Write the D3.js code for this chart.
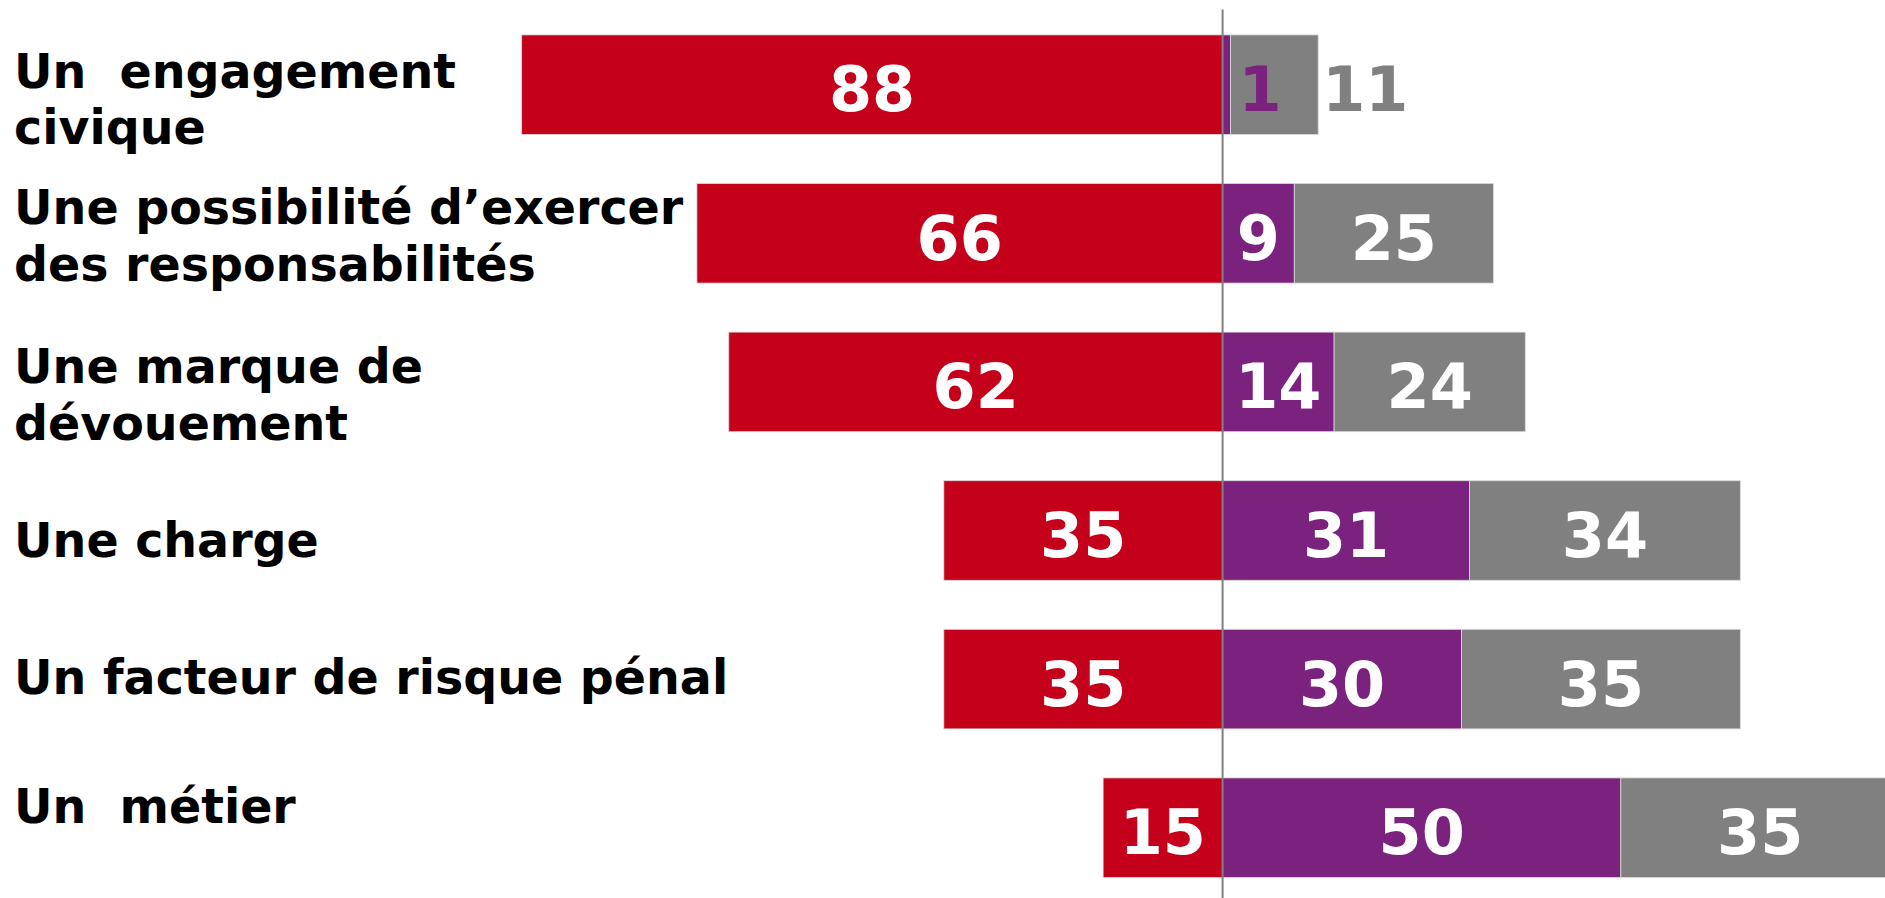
<!DOCTYPE html>
<html>
<head>
<meta charset="utf-8">
<script src="https://cdn.jsdelivr.net/npm/d3@7"></script>
<style>
  body { margin: 0; background: #fff; }
  svg { display: block; }
  .cat { font-family: "DejaVu Sans", sans-serif; font-weight: bold; font-size: 47.5px; fill: #000; white-space: pre; }
  .val { font-family: "DejaVu Sans", sans-serif; font-weight: bold; font-size: 62px; }
</style>
</head>
<body>
<svg width="1885" height="898"></svg>
<script>
// data
var categories = [
    "Un  engagement\ncivique",
    "Une possibilité d\u2019exercer\ndes responsabilités",
    "Une marque de\ndévouement",
    "Une charge",
    "Un facteur de risque pénal",
    "Un  métier"
];
var redValues = [88, 66, 62, 35, 35, 15];
var purpleValues = [1, 9, 14, 31, 30, 50];
var grayValues = [11, 25, 24, 34, 35, 35];

// layout tweaks (label text boxes were placed by hand in the original)
var labelNudge = [3, -9, 1.5, 26, 15, -5];

var colors = { red: "#c4001a", purple: "#7a227e", gray: "#808080" };

var svg = d3.select("svg"),
    width = +svg.attr("width"),
    height = +svg.attr("height");

var zeroX = 1222.6, unit = 7.965;
var x = d3.scaleLinear()
    .domain([-100, 100])
    .range([zeroX - 100 * unit, zeroX + 100 * unit]);

var y = d3.scaleBand()
    .domain(categories)
    .range([10.4, 902])
    .paddingInner(0.33)
    .paddingOuter(0.165);

var rows = categories.map(function (c, i) {
    return {
        cat: c, i: i,
        segs: [
            { key: "red", x0: -redValues[i], x1: 0, v: redValues[i] },
            { key: "purple", x0: 0, x1: purpleValues[i], v: purpleValues[i] },
            { key: "gray", x0: purpleValues[i], x1: purpleValues[i] + grayValues[i], v: grayValues[i] }
        ]
    };
});

var row = svg.append("g")
    .selectAll("g")
    .data(rows)
    .enter().append("g");

row.selectAll("rect")
    .data(function (d) { return d.segs.map(function (s) { s.cat = d.cat; return s; }); })
    .enter().append("rect")
    .attr("x", function (d) { return x(d.x0); })
    .attr("y", function (d) { return y(d.cat); })
    .attr("width", function (d) { return x(d.x1) - x(d.x0); })
    .attr("height", y.bandwidth())
    .style("fill", function (d) { return colors[d.key]; })
    .style("stroke", "#d9d9d9")
    .style("stroke-width", 0.8);

// value labels
row.each(function (r) {
    var purpleNarrow = x(r.segs[1].x1) - x(r.segs[1].x0) < 30;
    d3.select(this).selectAll("text.val")
        .data(r.segs)
        .enter().append("text")
        .attr("class", "val")
        .each(function (d) {
            var t = d3.select(this);
            t.attr("y", y(d.cat) + y.bandwidth() / 2 + 26.5).text(d.v);
            if (purpleNarrow && d.key != "red") {
                // narrow purple slice: labels pushed to the right, in series colour
                var gap = d.key == "purple" ? 8 : 4;
                t.attr("x", x(d.x1) + gap)
                 .attr("text-anchor", "start")
                 .style("fill", colors[d.key]);
            } else {
                t.attr("x", (x(d.x0) + x(d.x1)) / 2)
                 .attr("text-anchor", "middle")
                 .style("fill", "#fff");
            }
        });
});

// category labels
var lab = svg.append("g")
    .selectAll("text")
    .data(rows)
    .enter().append("text")
    .attr("class", "cat")
    .attr("x", 14)
    .attr("y", function (d) { return y(d.cat) + y.bandwidth() / 2 + labelNudge[d.i]; });

lab.selectAll("tspan")
    .data(function (d) { return d.cat.split("\n"); })
    .enter().append("tspan")
    .attr("x", 14)
    .attr("dy", function (d, i) { return i == 0 ? 0 : 56.5; })
    .text(function (d) { return d; });

// zero line
svg.append("line")
    .attr("x1", x(0)).attr("x2", x(0))
    .attr("y1", 9.6).attr("y2", height)
    .style("stroke", "#808080")
    .style("stroke-width", 2);
</script>
</body>
</html>
